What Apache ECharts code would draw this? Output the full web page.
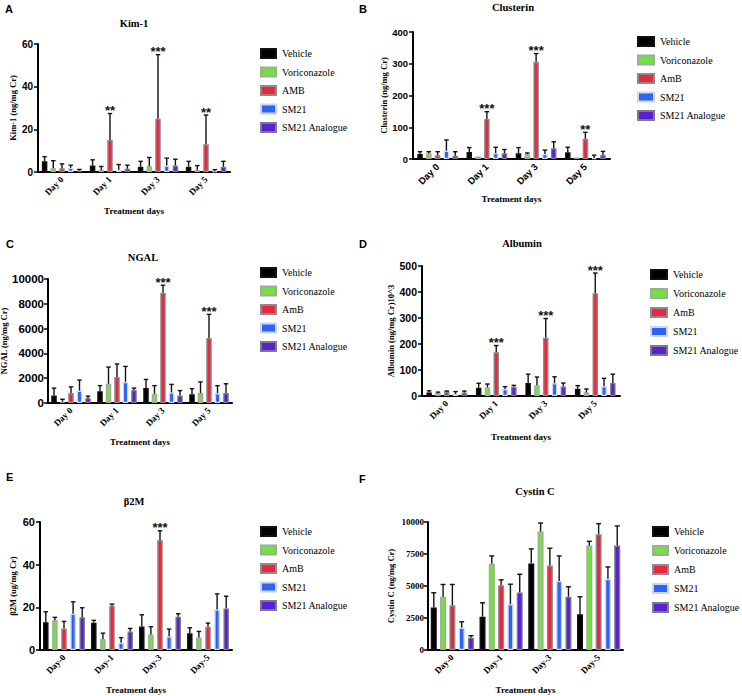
<!DOCTYPE html>
<html><head><meta charset="utf-8">
<script src="https://cdn.jsdelivr.net/npm/echarts@6/dist/echarts.min.js"></script>
<style>html,body{margin:0;padding:0;background:#fff}#c{width:742px;height:696px}</style>
</head><body><div id="c"></div>
<script>
// ---------- categories & groups ----------
const days = ['Day 0', 'Day 1', 'Day 3', 'Day 5'];
const daysDash = ['Day-0', 'Day-1', 'Day-3', 'Day-5'];
const groupsA = ['Vehicle', 'Voriconazole', 'AMB', 'SM21', 'SM21 Analogue'];
const groups = ['Vehicle', 'Voriconazole', 'AmB', 'SM21', 'SM21 Analogue'];

// ---------- A: Kim-1 (rows = groups, cols = days) ----------
const kimMean = [[5, 3, 2.5, 2.5], [1.8, 1.1, 2.7, 1], [1.8, 15, 25, 13], [2, 1, 3, 0.3], [0.6, 1.5, 3, 2.5]];
const kimTop = [[7.2, 5.7, 5, 5], [5.3, 2.6, 6.8, 3], [3.8, 27.4, 55, 26.7], [3.2, 3.5, 6.5, 1.1], [1.2, 3.2, 6, 5]];
const kimStars = ['', '**', '***', '**'];

// ---------- B: Clusterin ----------
const clusMean = [[16, 22, 18, 21], [18, 8, 15, 5], [12, 126, 306, 63], [26, 19, 16, 3], [10, 18, 34, 13]];
const clusTop = [[23, 36, 36, 37], [23, 8, 19, 5], [23, 149, 332, 84], [60, 37, 28, 12], [23, 30, 54, 24]];
const clusStars = ['', '***', '***', '**'];

// ---------- C: NGAL ----------
const ngalMean = [[600, 950, 1200, 700], [100, 1550, 750, 800], [800, 2100, 8900, 5250], [1000, 1700, 850, 800], [400, 1050, 600, 800]];
const ngalTop = [[1200, 1400, 1900, 1150], [300, 2900, 1400, 1700], [1300, 3150, 9500, 7150], [1850, 2950, 1500, 1400], [550, 1200, 1000, 1550]];
const ngalStars = ['', '', '***', '***'];

// ---------- D: Albumin ----------
const albMean = [[13, 32, 50, 28], [12, 33, 41, 14], [17, 168, 224, 395], [8, 27, 49, 38], [13, 36, 37, 50]];
const albTop = [[20, 49, 84, 40], [15, 46, 73, 27], [19, 194, 298, 473], [17, 36, 74, 68], [19, 41, 50, 84]];
const albStars = ['', '***', '***', '***'];

// ---------- E: β2M ----------
const b2mMean = [[13, 12.8, 11, 7.8], [13.9, 5.1, 7.3, 5.9], [10.1, 20.7, 51.6, 10.9], [17, 3.4, 6.4, 19], [15.4, 8.7, 15.6, 19.5]];
const b2mTop = [[17.9, 13.9, 16.5, 10.4], [15.3, 7.9, 10.9, 8.7], [13.4, 21.5, 55.9, 12.6], [22.6, 5.8, 9.8, 26.3], [19.8, 10.1, 17, 25.2]];
const b2mStars = ['', '', '***', ''];

// ---------- F: Cystin C ----------
const cysMean = [[3325, 2600, 6750, 2800], [4160, 6730, 9250, 8160], [3500, 5060, 6600, 9040], [1740, 3580, 5400, 5560], [960, 4490, 4160, 8160]];
const cysTop = [[4470, 3690, 7900, 4160], [5120, 7350, 9920, 8490], [5120, 5480, 7950, 9870], [2200, 5140, 7350, 6490], [1120, 5920, 4940, 9690]];
const cysStars = ['', '', '', ''];

// ---------- axes ----------
const panelLetters = ['A', 'B', 'C', 'D', 'E', 'F'];
const panelTitles = ['Kim-1', 'Clusterin', 'NGAL', 'Albumin', 'β2M', 'Cystin C'];
const yNames = ['Kim-1 (ng/mg Cr)', 'Clusterin (ng/mg Cr)', 'NGAL (ng/mg Cr)', 'Albumin (ng/mg Cr)10^3', 'β2M (ug/mg Cr)', 'Cystin C (ng/mg Cr)'];
const yMax = [60, 400, 10000, 500, 60, 10000];
const yStep = [20, 100, 2000, 100, 20, 2500];
const xName = 'Treatment days';

// ---------- styles / layout ----------
const SERIF = 'Liberation Serif';
const SANS = 'Liberation Sans';
const fills = ['#000000', '#74e23e', '#e8283c', '#2f63f6', '#5a21d4'];
const strokes = ['#111111', '#a0a8a0', '#8c8c8c', '#c9d8f0', '#7c7c88'];

const layout = [
  {grid: [38, 44, 192, 128], title: [134, 24], letter: [5, 3], legend: [260, 48, 7.5, 15], yGap: 19, xGap: 34.5, yFont: 10, yFam: SANS, yMargin: 5, xFont: 9, xFam: SERIF, barW: 5.5, gapW: 3.2, cap: 4.5},
  {grid: [413, 32, 197, 127], title: [513, 8], letter: [359, 3], legend: [637, 36, 7.5, 16], yGap: 25, xGap: 35.5, yFont: 9.5, yFam: SANS, yMargin: 5, xFont: 9.5, xFam: SANS, barW: 5.5, gapW: 3.3, cap: 4.5},
  {grid: [48, 279, 184, 124], title: [143, 258], letter: [6, 238], legend: [260, 267, 7.5, 15], yGap: 37, xGap: 34.5, yFont: 11.5, yFam: SANS, yMargin: 4, xFont: 9, xFam: SERIF, barW: 5.5, gapW: 3.0, cap: 4.5},
  {grid: [422, 266, 198, 130], title: [522, 244], letter: [359, 238], legend: [650, 269, 8, 16], yGap: 26, xGap: 36.5, yFont: 10.5, yFam: SANS, yMargin: 5, xFont: 9, xFam: SERIF, barW: 5.5, gapW: 3.3, cap: 4.5},
  {grid: [40, 522, 192, 128], title: [134, 502], letter: [6, 471], legend: [260, 526, 7.5, 15], yGap: 23, xGap: 35.5, yFont: 11, yFam: SANS, yMargin: 5, xFont: 9, xFam: SERIF, barW: 5.5, gapW: 3.6, cap: 4.5},
  {grid: [428, 522, 195, 128], title: [535, 492], letter: [359, 473], legend: [652, 526, 8, 15], yGap: 33, xGap: 35.5, yFont: 9, yFam: SERIF, yMargin: 4, xFont: 9, xFam: SERIF, barW: 6, gapW: 3.3, cap: 5}
];

const panels = [
  {cats: days, names: groupsA, mean: kimMean, top: kimTop, stars: kimStars},
  {cats: days, names: groups, mean: clusMean, top: clusTop, stars: clusStars},
  {cats: days, names: groups, mean: ngalMean, top: ngalTop, stars: ngalStars},
  {cats: days, names: groups, mean: albMean, top: albTop, stars: albStars},
  {cats: daysDash, names: groups, mean: b2mMean, top: b2mTop, stars: b2mStars},
  {cats: daysDash, names: groups, mean: cysMean, top: cysTop, stars: cysStars}
];

function errSeries(p, g, P, L) {
  return {
    type: 'custom', xAxisIndex: p, yAxisIndex: p, z: 5, silent: true,
    data: P.mean[g].map((m, i) => [i, m, P.top[g][i]]),
    encode: {x: 0, y: 1},
    renderItem: function (params, api) {
      const i = api.value(0);
      const pm = api.coord([i, api.value(1)]);
      const pt = api.coord([i, api.value(2)]);
      const x = pm[0] + (g - 2) * (L.barW + L.gapW);
      const children = [];
      if (pt[1] < pm[1] - 0.5) {
        children.push({type: 'line', shape: {x1: x, y1: pm[1], x2: x, y2: pt[1]}, style: {stroke: '#111', lineWidth: 1.4}});
        children.push({type: 'line', shape: {x1: x - L.cap / 2, y1: pt[1], x2: x + L.cap / 2, y2: pt[1]}, style: {stroke: '#111', lineWidth: 1.4}});
      }
      const s = g === 2 ? P.stars[params.dataIndex] : '';
      if (s) {
        children.push({type: 'text', style: {text: s, x: x, y: pt[1] - 3, align: 'center', verticalAlign: 'middle', fontSize: 13, fontFamily: SANS, fontWeight: 'bold', fill: '#111'}});
      }
      return {type: 'group', children: children};
    }
  };
}

const grid = [], xAxis = [], yAxis = [], series = [], title = [], legend = [];
panels.forEach((P, p) => {
  const L = layout[p];
  grid.push({left: L.grid[0], top: L.grid[1], width: L.grid[2], height: L.grid[3], containLabel: false, outerBoundsMode: 'none'});
  xAxis.push({
    type: 'category', gridIndex: p, data: P.cats,
    axisLine: {lineStyle: {color: '#000', width: 2}},
    axisTick: {alignWithLabel: true, length: 4, lineStyle: {color: '#000', width: 1.5}},
    axisLabel: {rotate: 45, margin: 6, color: '#000', fontSize: L.xFont, fontFamily: L.xFam, fontWeight: 'bold', interval: 0},
    name: xName, nameLocation: 'middle', nameGap: L.xGap,
    nameTextStyle: {color: '#000', fontSize: 9, fontFamily: SERIF, fontWeight: 'bold'}
  });
  yAxis.push({
    type: 'value', gridIndex: p, min: 0, max: yMax[p], interval: yStep[p],
    axisLine: {show: true, lineStyle: {color: '#000', width: 2}},
    axisTick: {show: true, length: 4, lineStyle: {color: '#000', width: 1.5}},
    splitLine: {show: false},
    axisLabel: {margin: L.yMargin, color: '#000', fontSize: L.yFont, fontFamily: L.yFam, fontWeight: 'bold', formatter: v => String(v)},
    name: yNames[p], nameLocation: 'middle', nameGap: L.yGap,
    nameTextStyle: {color: '#000', fontSize: 8.5, fontFamily: SERIF, fontWeight: 'bold'}
  });
  title.push({text: panelTitles[p], left: L.title[0], top: L.title[1] - 6, textAlign: 'center', padding: 0,
    textStyle: {fontSize: 10.5, fontFamily: SERIF, fontWeight: 'bold', color: '#000'}});
  title.push({text: panelLetters[p], left: L.letter[0], top: L.letter[1], padding: 0,
    textStyle: {fontSize: 11, fontFamily: SANS, fontWeight: 'bold', color: '#000'}});
  legend.push({
    data: P.names, orient: 'vertical', left: L.legend[0], top: L.legend[1], padding: 0,
    itemGap: L.legend[2], itemWidth: L.legend[3], itemHeight: 9, icon: 'rect', selectedMode: false,
    textStyle: {fontSize: 10, fontFamily: SERIF, fontWeight: 'normal', color: '#000', padding: [0, 0, 0, 1]}
  });
  P.names.forEach((nm, g) => {
    series.push({
      type: 'bar', name: nm, xAxisIndex: p, yAxisIndex: p,
      data: P.mean[g], barWidth: L.barW, barGap: (L.gapW / L.barW * 100) + '%',
      itemStyle: {color: fills[g], borderColor: strokes[g], borderWidth: 1.3},
      silent: true
    });
  });
  P.names.forEach((nm, g) => series.push(errSeries(p, g, P, L)));
});

const chart = echarts.init(document.getElementById('c'), null, {renderer: 'svg'});
chart.setOption({animation: false, backgroundColor: '#fff', textStyle: {fontFamily: SERIF}, title, grid, xAxis, yAxis, legend, series});
</script></body></html>
